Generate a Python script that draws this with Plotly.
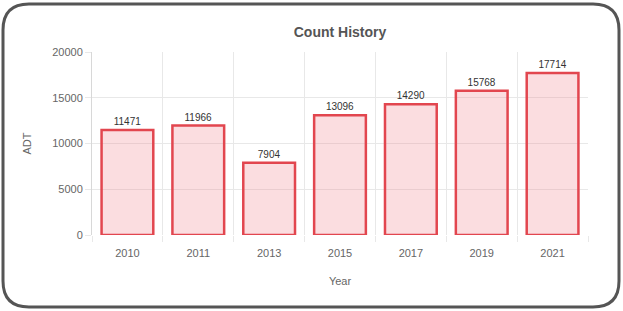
import plotly.graph_objects as go

years = ["2010", "2011", "2013", "2015", "2017", "2019", "2021"]
adt = [11471, 11966, 7904, 13096, 14290, 15768, 17714]
y_ticks = [0, 5000, 10000, 15000, 20000]

W, H = 623, 311
L, R, T, B = 92, 35, 52, 76
pw, ph = W - L - R, H - T - B

def px(x):
    return (x - L) / pw

def py(y):
    return (H - B - y) / ph

xs = list(range(len(years)))

fig = go.Figure()
fig.add_trace(go.Bar(
    x=xs, y=adt,
    marker=dict(color="rgba(240,120,130,0.25)", line=dict(color="#e2464f", width=2.5)),
    text=[str(v) for v in adt], textposition="outside",
    textfont=dict(size=10, color="#333", family="Liberation Sans, Arial"),
    cliponaxis=False, width=0.73,
))

# rounded outer frame
x0, x1, y0, y1, r = 3, 619, 4, 307, 26
path = (f"M {px(x0+r)},{py(y0)} L {px(x1-r)},{py(y0)} Q {px(x1)},{py(y0)} {px(x1)},{py(y0+r)} "
        f"L {px(x1)},{py(y1-r)} Q {px(x1)},{py(y1)} {px(x1-r)},{py(y1)} "
        f"L {px(x0+r)},{py(y1)} Q {px(x0)},{py(y1)} {px(x0)},{py(y1-r)} "
        f"L {px(x0)},{py(y0+r)} Q {px(x0)},{py(y0)} {px(x0+r)},{py(y0)} Z")
fig.add_shape(type="path", path=path, xref="paper", yref="paper",
              line=dict(color="#555", width=3), layer="above")

fig.update_layout(
    width=W, height=H,
    margin=dict(l=L, r=R, t=T, b=B, autoexpand=False),
    paper_bgcolor="white", plot_bgcolor="white",
    showlegend=False,
    font=dict(family="Liberation Sans, Arial", color="#666", size=11),
    title=dict(text="<b>Count History</b>", x=0.5, xref="paper", xanchor="center",
               y=1 - 32 / H, yanchor="middle", font=dict(size=14, color="#555")),
    xaxis=dict(
        range=[-0.5, len(years) - 0.5], tickvals=xs, ticktext=years,
        showgrid=False, zeroline=False, showline=False, ticks="",
        ticklabelstandoff=10, automargin=False,
        minor=dict(tickvals=[i - 0.5 for i in range(len(years) + 1)], showgrid=True,
                   gridcolor="#e8e8e8", gridwidth=1, ticks="outside", ticklen=6,
                   tickcolor="#e8e8e8"),
        title=dict(text="Year", font=dict(size=11, color="#666"), standoff=19),
    ),
    yaxis=dict(
        range=[0, 20000], tickvals=y_ticks, ticktext=[str(v) for v in y_ticks],
        showgrid=True, gridcolor="#e8e8e8", automargin=False,
        zeroline=False, showline=True, linecolor="#d8d8d8", ticks="outside", ticklen=6,
        tickcolor="#e8e8e8",
        title=dict(text="ADT", font=dict(size=11, color="#666"), standoff=18),
    ),
)
fig.write_html("out.html", config={"displayModeBar": False},
               post_script="document.body.style.margin='0';document.body.style.overflow='hidden';")
